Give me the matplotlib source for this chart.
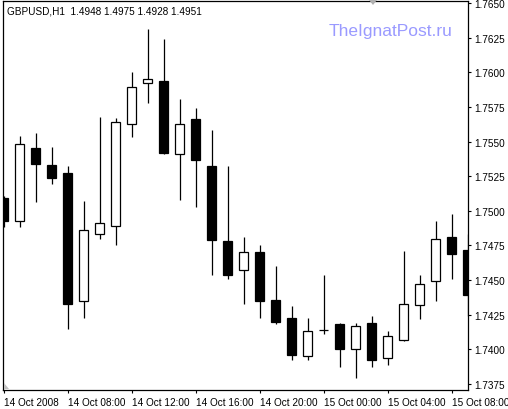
import matplotlib
matplotlib.use("Agg")
import matplotlib.pyplot as plt
import numpy as np
from matplotlib.ticker import FixedLocator, FuncFormatter

# ---- data (hourly GBPUSD candles, 14 Oct 2008 04:00 onwards) ----
opens  = [1.7509, 1.7493, 1.7545, 1.7533, 1.7527, 1.7435, 1.7483, 1.7489, 1.7563, 1.7592,
          1.7594, 1.7541, 1.7566, 1.7532, 1.7478, 1.7457, 1.7470, 1.7436, 1.7423, 1.7395,
          1.7414, 1.7418, 1.7400, 1.7419, 1.7394, 1.7407, 1.7432, 1.7449, 1.7481, 1.7472]
highs  = [1.7511, 1.7554, 1.7556, 1.7546, 1.7532, 1.7507, 1.7568, 1.7567, 1.7600, 1.7631,
          1.7624, 1.7581, 1.7574, 1.7558, 1.7532, 1.7481, 1.7475, 1.7460, 1.7431, 1.7423,
          1.7454, 1.7419, 1.7419, 1.7424, 1.7413, 1.7471, 1.7454, 1.7493, 1.7498, 1.7483]
lows   = [1.7488, 1.7488, 1.7506, 1.7519, 1.7415, 1.7423, 1.7480, 1.7475, 1.7553, 1.7578,
          1.7541, 1.7508, 1.7503, 1.7454, 1.7451, 1.7433, 1.7423, 1.7418, 1.7392, 1.7392,
          1.7411, 1.7387, 1.7379, 1.7387, 1.7389, 1.7406, 1.7422, 1.7435, 1.7451, 1.7424]
closes = [1.7493, 1.7548, 1.7534, 1.7524, 1.7433, 1.7486, 1.7491, 1.7564, 1.7589, 1.7595,
          1.7542, 1.7563, 1.7537, 1.7479, 1.7454, 1.7470, 1.7435, 1.7420, 1.7396, 1.7413,
          1.7414, 1.7400, 1.7417, 1.7392, 1.7410, 1.7433, 1.7447, 1.7480, 1.7469, 1.7439]

x_tick_pos = [0, 4, 8, 12, 16, 20, 24, 28]
x_tick_labels = ["14 Oct 2008", "14 Oct 08:00", "14 Oct 12:00", "14 Oct 16:00",
                 "14 Oct 20:00", "15 Oct 00:00", "15 Oct 04:00", "15 Oct 08:00"]
y_ticks = [1.7375, 1.7400, 1.7425, 1.7450, 1.7475, 1.7500, 1.7525,
           1.7550, 1.7575, 1.7600, 1.7625, 1.7650]
title_text = "GBPUSD,H1  1.4948 1.4975 1.4928 1.4951"
watermark = "TheIgnatPost.ru"

FONT = "Liberation Sans"
W, H = 508, 410
fig = plt.figure(figsize=(W / 100, H / 100), dpi=100)
fig.patch.set_facecolor("white")

ax_left, ax_right, ax_top, ax_bottom = 2.5, 468.0, 2.0, 391.0
ax = fig.add_axes([ax_left / W, 1 - ax_bottom / H,
                   (ax_right - ax_left) / W, (ax_bottom - ax_top) / H])

n = len(opens)
xs = np.arange(n)
o = np.array(opens); c = np.array(closes)
hi = np.array(highs); lo = np.array(lows)

ax.vlines(xs, lo, hi, color="black", linewidth=0.9, zorder=1)
bull = c >= o
bottoms = np.minimum(o, c)
heights = np.abs(c - o)
ax.bar(xs[bull], heights[bull], bottom=bottoms[bull], width=0.6,
       facecolor="white", edgecolor="black", linewidth=0.9, zorder=2)
ax.bar(xs[~bull], heights[~bull], bottom=bottoms[~bull], width=0.6,
       facecolor="black", edgecolor="black", linewidth=0.9, zorder=2)

px_per_unit = 16.0
ax.set_xlim(-(3.5 - ax_left) / px_per_unit, -(3.5 - ax_left) / px_per_unit + (ax_right - ax_left) / px_per_unit)
ax.set_ylim(1.73707, 1.76514)

for s in ["left", "right", "top", "bottom"]:
    ax.spines[s].set_linewidth(0.9)
    ax.spines[s].set_color("black")

ax.yaxis.tick_right()
ax.yaxis.set_major_locator(FixedLocator(y_ticks))
ax.yaxis.set_major_formatter(FuncFormatter(lambda v, p: f"{v:.4f}"))
ax.tick_params(axis="y", direction="out", length=2.5, width=0.8, pad=2,
               labelsize=7.2, left=False, right=True)
ax.set_xticks(x_tick_pos)
ax.set_xticklabels(x_tick_labels)
ax.tick_params(axis="x", direction="out", length=2.5, width=0.8, pad=2.5, labelsize=7.2)
for lab in ax.get_xticklabels():
    lab.set_horizontalalignment("left")
    lab.set_fontfamily(FONT)
for lab in ax.get_yticklabels():
    lab.set_fontfamily(FONT)

fig.text(7 / W, 1 - 11 / H, title_text, fontsize=7.2, family=FONT,
         ha="left", va="center", color="black")
fig.text(329 / W, 1 - 31.5 / H, watermark, fontsize=12.5, family=FONT,
         ha="left", va="center", color="#9a9aff")

# small grey markers (chart shift / corner)
fig.patches.append(plt.Polygon([[369 / W, 1 - 1 / H], [377 / W, 1 - 1 / H], [373 / W, 1 - 6 / H]],
                               closed=True, transform=fig.transFigure,
                               facecolor="#b0b0b0", edgecolor="none"))
fig.patches.append(plt.Polygon([[3.5 / W, 1 - 384 / H], [3.5 / W, 1 - 390 / H], [9 / W, 1 - 390 / H]],
                               closed=True, transform=fig.transFigure,
                               facecolor="#c0c0c0", edgecolor="none"))

fig.savefig("out.png", dpi=100, facecolor="white")
